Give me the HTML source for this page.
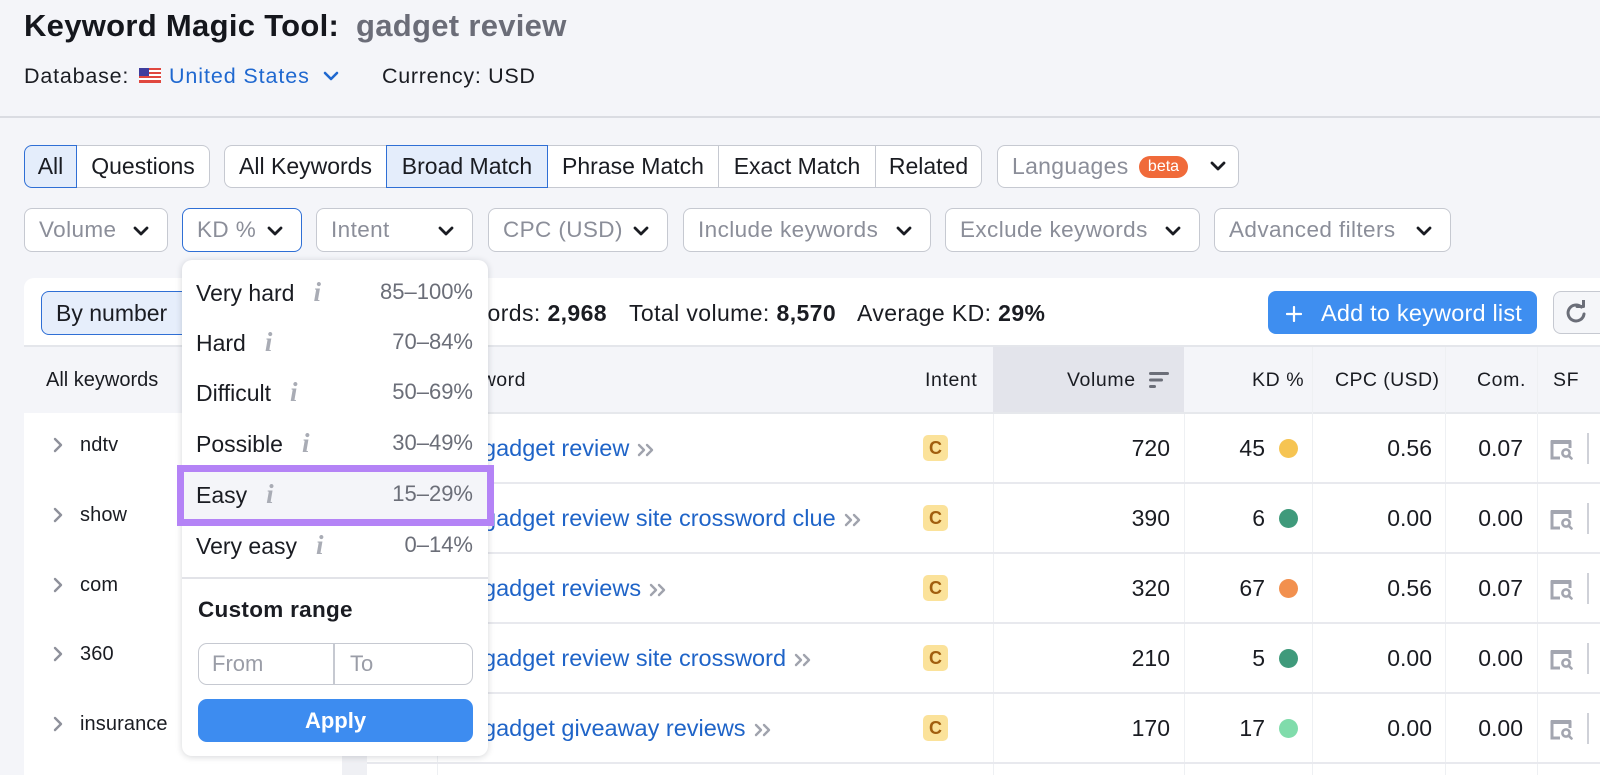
<!DOCTYPE html>
<html><head><meta charset="utf-8">
<style>
*{box-sizing:border-box}
body{margin:0;width:1600px;height:775px;overflow:hidden;background:#f4f5f9;position:relative;font-family:"Liberation Sans",Arial,sans-serif;color:#1a1c22}
.a{position:absolute;white-space:nowrap}
.t{position:absolute;white-space:nowrap;height:40px;line-height:40px}
.b{position:absolute;top:145px;height:43px;border:1.5px solid #c6c9d1;background:#fff;font-size:23px;line-height:40px;text-align:center;white-space:nowrap;color:#1a1c22}
.act{background:#e4edfb;border-color:#2f6fd5;z-index:2}
.d{position:absolute;top:208px;height:44px;border:1.5px solid #c6c9d1;background:#fff;border-radius:8px;font-size:22.5px;line-height:41px;padding-left:14px;color:#8b8e99;letter-spacing:.4px;white-space:nowrap}
.d svg{position:absolute;right:18px;top:17px}
.hl{font-size:19.5px;color:#1a1c22}
.kw{font-size:23.5px;color:#1f64c8;left:483px}
.num{font-size:23px;color:#1a1c22}
.vl{position:absolute;width:1px;background:#eef0f3;top:347px;height:428px}
.rs{position:absolute;left:367px;width:1233px;height:2px;background:#e8e9ee}
.badge{position:absolute;left:923px;width:25px;height:26px;background:#fbe29a;border-radius:5px;color:#a15e0e;font-weight:bold;font-size:18px;line-height:26px;text-align:center}
.dot{position:absolute;left:1279px;width:19px;height:19px;border-radius:50%}
.sb{font-size:20px;left:80px;letter-spacing:.1px}
.it{font-family:"Liberation Serif",serif;font-style:italic;font-weight:bold;color:#a9acb5;font-size:27px;margin-left:19px}
.dd{font-size:23px;left:196px;color:#1a1c22}
.rg{font-size:22px;right:1127px;color:#6b6e78}
</style></head><body>

<!-- Title -->
<div class="t" style="left:24px;top:5.5px;font-size:31px;font-weight:bold;letter-spacing:.3px;color:#15171d">Keyword Magic Tool:</div>
<div class="t" style="left:356px;top:5.5px;font-size:31px;font-weight:bold;letter-spacing:.3px;color:#6b6d78">gadget review</div>

<div class="t" style="left:24px;top:55.5px;font-size:21.5px;letter-spacing:.8px">Database:</div>
<svg class="a" style="left:139px;top:68px" width="22" height="15" viewBox="0 0 22 15">
<rect width="22" height="15" fill="#fff"/>
<rect y="0" width="22" height="2" fill="#e0473f"/><rect y="4" width="22" height="2" fill="#e0473f"/><rect y="8" width="22" height="2" fill="#e0473f"/><rect y="12" width="22" height="2" fill="#e0473f"/><rect y="14" width="22" height="1" fill="#e0473f"/>
<rect width="10" height="8" fill="#3f3d9e"/></svg>
<div class="t" style="left:169px;top:55.5px;font-size:21.5px;letter-spacing:.9px;color:#1f68d0">United States</div>
<svg class="a" style="left:323px;top:71px" width="16" height="10" viewBox="0 0 16 10"><polyline points="2,2 8,8 14,2" fill="none" stroke="#1f68d0" stroke-width="2.6" stroke-linecap="round" stroke-linejoin="round"/></svg>
<div class="t" style="left:382px;top:55.5px;font-size:21.5px;letter-spacing:.7px">Currency: USD</div>

<div class="a" style="left:0;top:116px;width:1600px;height:2px;background:#dadce2"></div>

<!-- Row 1 -->
<div class="b act" style="left:24px;width:53px;border-radius:8px 0 0 8px">All</div>
<div class="b" style="left:77px;width:133px;border-left:none;border-radius:0 8px 8px 0">Questions</div>
<div class="b" style="left:224px;width:162px;border-right:none;border-radius:8px 0 0 8px">All Keywords</div>
<div class="b act" style="left:386px;width:162px">Broad Match</div>
<div class="b" style="left:548px;width:171px;border-left:none">Phrase Match</div>
<div class="b" style="left:719px;width:157px;border-left:none">Exact Match</div>
<div class="b" style="left:876px;width:106px;border-left:none;border-radius:0 8px 8px 0">Related</div>
<div class="b" style="left:997px;width:242px;border-radius:8px;text-align:left;padding-left:14px;color:#8b8e99;letter-spacing:.3px">Languages</div>
<div class="a" style="left:1139px;top:156px;width:49px;height:22px;border-radius:11px;background:#f06a3a;color:#fff;font-size:16px;line-height:22px;text-align:center;z-index:3">beta</div>
<svg class="a" style="left:1210px;top:161px;z-index:3" width="16" height="10" viewBox="0 0 16 10"><polyline points="2,2 8,8 14,2" fill="none" stroke="#1a1c22" stroke-width="2.8" stroke-linecap="round" stroke-linejoin="round"/></svg>

<!-- Row 2 -->
<div class="d" style="left:24px;width:144px">Volume<svg width="16" height="10" viewBox="0 0 16 10"><polyline points="2,2 8,8 14,2" fill="none" stroke="#1a1c22" stroke-width="2.8" stroke-linecap="round" stroke-linejoin="round"/></svg></div>
<div class="d" style="left:182px;width:120px;border-color:#2f6fd5">KD %<svg width="16" height="10" viewBox="0 0 16 10"><polyline points="2,2 8,8 14,2" fill="none" stroke="#1a1c22" stroke-width="2.8" stroke-linecap="round" stroke-linejoin="round"/></svg></div>
<div class="d" style="left:316px;width:157px">Intent<svg width="16" height="10" viewBox="0 0 16 10"><polyline points="2,2 8,8 14,2" fill="none" stroke="#1a1c22" stroke-width="2.8" stroke-linecap="round" stroke-linejoin="round"/></svg></div>
<div class="d" style="left:488px;width:180px">CPC (USD)<svg width="16" height="10" viewBox="0 0 16 10"><polyline points="2,2 8,8 14,2" fill="none" stroke="#1a1c22" stroke-width="2.8" stroke-linecap="round" stroke-linejoin="round"/></svg></div>
<div class="d" style="left:683px;width:248px">Include keywords<svg width="16" height="10" viewBox="0 0 16 10"><polyline points="2,2 8,8 14,2" fill="none" stroke="#1a1c22" stroke-width="2.8" stroke-linecap="round" stroke-linejoin="round"/></svg></div>
<div class="d" style="left:945px;width:255px">Exclude keywords<svg width="16" height="10" viewBox="0 0 16 10"><polyline points="2,2 8,8 14,2" fill="none" stroke="#1a1c22" stroke-width="2.8" stroke-linecap="round" stroke-linejoin="round"/></svg></div>
<div class="d" style="left:1214px;width:237px">Advanced filters<svg width="16" height="10" viewBox="0 0 16 10"><polyline points="2,2 8,8 14,2" fill="none" stroke="#1a1c22" stroke-width="2.8" stroke-linecap="round" stroke-linejoin="round"/></svg></div>

<!-- Card -->
<div class="a" style="left:24px;top:278px;width:1576px;height:497px;background:#fff;border-radius:10px 0 0 0"></div>

<!-- stats row -->
<div class="a" style="left:41px;top:291px;width:170px;height:44px;background:#e6eefb;border:1.5px solid #2f6fd5;border-radius:8px"></div>
<div class="t" style="left:56px;top:293px;font-size:23px">By number</div>
<div class="t" style="right:993px;top:293px;font-size:23px;letter-spacing:.4px">All keywords: <b>2,968</b></div>
<div class="t" style="left:629px;top:293px;font-size:23px;letter-spacing:.4px">Total volume: <b>8,570</b></div>
<div class="t" style="left:857px;top:293px;font-size:23px;letter-spacing:.4px">Average KD: <b>29%</b></div>
<div class="a" style="left:1268px;top:291px;width:269px;height:43px;background:#3e8ef0;border-radius:8px"></div>
<svg class="a" style="left:1286px;top:306px" width="16" height="16" viewBox="0 0 16 16"><path d="M8 1v14M1 8h14" stroke="#fff" stroke-width="2.2" stroke-linecap="round"/></svg>
<div class="t" style="left:1321px;top:293px;font-size:23.5px;color:#fff;letter-spacing:.2px">Add to keyword list</div>
<div class="a" style="left:1553px;top:291px;width:47px;height:43px;background:#f5f6f9;border:1.5px solid #c6c9d1;border-right:none;border-radius:8px 0 0 8px"></div>
<svg class="a" style="left:1563px;top:300px" width="26" height="26" viewBox="0 0 26 26"><path d="M21 14a8 8 0 1 1-2.6-7" fill="none" stroke="#6b6e78" stroke-width="3" stroke-linecap="round"/><path d="M14 5.5h6.5V-1" fill="none" stroke="#6b6e78" stroke-width="3" stroke-linecap="round" stroke-linejoin="round" transform="translate(0,1)"/></svg>

<!-- header -->
<div class="a" style="left:24px;top:345px;width:1576px;height:2px;background:#e4e6eb"></div>
<div class="a" style="left:24px;top:347px;width:1576px;height:66px;background:#f4f5f9"></div>
<div class="a" style="left:993px;top:347px;width:191px;height:66px;background:#e3e4eb"></div>
<div class="a" style="left:342px;top:347px;width:25px;height:428px;background:#eff0f4"></div>
<div class="a" style="left:367px;top:412px;width:1233px;height:2px;background:#e6e8ec"></div>

<div class="vl" style="left:437px;top:414px;height:361px"></div>
<div class="vl" style="left:1184px;top:414px;height:361px"></div>
<div class="vl" style="left:993px;top:414px;height:361px"></div>
<div class="vl" style="left:1312px"></div>
<div class="vl" style="left:1445px"></div>
<div class="vl" style="left:1537px"></div>

<div class="t hl" style="left:46px;top:359.5px;font-size:20px">All keywords</div>
<div class="t hl" style="right:1074px;top:360px;letter-spacing:.5px">Keyword</div>
<div class="t hl" style="left:925px;top:360px;letter-spacing:.6px">Intent</div>
<div class="t hl" style="left:1067px;top:360px;letter-spacing:.6px">Volume</div>
<svg class="a" style="left:1149px;top:371px" width="20" height="19" viewBox="0 0 20 19"><path d="M1.5 2.5h17M1.5 9h11M1.5 15.5h4" stroke="#6b6e78" stroke-width="3" stroke-linecap="round"/></svg>
<div class="t hl" style="left:1252px;top:360px;letter-spacing:.6px">KD %</div>
<div class="t hl" style="left:1335px;top:360px;letter-spacing:.4px">CPC (USD)</div>
<div class="t hl" style="left:1477px;top:360px;letter-spacing:.6px">Com.</div>
<div class="t hl" style="left:1553px;top:360px;letter-spacing:.6px">SF</div>

<!-- row separators -->
<div class="rs" style="top:482px"></div>
<div class="rs" style="top:552px"></div>
<div class="rs" style="top:622px"></div>
<div class="rs" style="top:692px"></div>
<div class="rs" style="top:762px"></div>

<!-- sidebar items -->
<svg class="a" style="left:52px;top:437px" width="12" height="16" viewBox="0 0 12 16"><polyline points="3,2 9,8 3,14" fill="none" stroke="#8e919b" stroke-width="2.4" stroke-linecap="round" stroke-linejoin="round"/></svg>
<div class="t sb" style="top:425px">ndtv</div>
<svg class="a" style="left:52px;top:507px" width="12" height="16" viewBox="0 0 12 16"><polyline points="3,2 9,8 3,14" fill="none" stroke="#8e919b" stroke-width="2.4" stroke-linecap="round" stroke-linejoin="round"/></svg>
<div class="t sb" style="top:495px">show</div>
<svg class="a" style="left:52px;top:577px" width="12" height="16" viewBox="0 0 12 16"><polyline points="3,2 9,8 3,14" fill="none" stroke="#8e919b" stroke-width="2.4" stroke-linecap="round" stroke-linejoin="round"/></svg>
<div class="t sb" style="top:565px">com</div>
<svg class="a" style="left:52px;top:646px" width="12" height="16" viewBox="0 0 12 16"><polyline points="3,2 9,8 3,14" fill="none" stroke="#8e919b" stroke-width="2.4" stroke-linecap="round" stroke-linejoin="round"/></svg>
<div class="t sb" style="top:634px">360</div>
<svg class="a" style="left:52px;top:716px" width="12" height="16" viewBox="0 0 12 16"><polyline points="3,2 9,8 3,14" fill="none" stroke="#8e919b" stroke-width="2.4" stroke-linecap="round" stroke-linejoin="round"/></svg>
<div class="t sb" style="top:704px">insurance</div>

<!-- table rows -->
<div class="t kw" style="top:428px">gadget review<svg style="margin-left:8px;vertical-align:-1px" width="19" height="14" viewBox="0 0 19 14"><polyline points="2,2 7,7 2,12" fill="none" stroke="#a0a3ad" stroke-width="2.4" stroke-linecap="round" stroke-linejoin="round"/><polyline points="10,2 15,7 10,12" fill="none" stroke="#a0a3ad" stroke-width="2.4" stroke-linecap="round" stroke-linejoin="round"/></svg></div>
<div class="badge" style="top:435px">C</div>
<div class="t num" style="right:430px;top:428px">720</div>
<div class="t num" style="right:335px;top:428px">45</div>
<div class="dot" style="top:438.5px;background:#f6c452"></div>
<div class="t num" style="right:168px;top:428px">0.56</div>
<div class="t num" style="right:77px;top:428px">0.07</div>

<div class="t kw" style="top:498px">gadget review site crossword clue<svg style="margin-left:8px;vertical-align:-1px" width="19" height="14" viewBox="0 0 19 14"><polyline points="2,2 7,7 2,12" fill="none" stroke="#a0a3ad" stroke-width="2.4" stroke-linecap="round" stroke-linejoin="round"/><polyline points="10,2 15,7 10,12" fill="none" stroke="#a0a3ad" stroke-width="2.4" stroke-linecap="round" stroke-linejoin="round"/></svg></div>
<div class="badge" style="top:505px">C</div>
<div class="t num" style="right:430px;top:498px">390</div>
<div class="t num" style="right:335px;top:498px">6</div>
<div class="dot" style="top:508.5px;background:#3f9a7b"></div>
<div class="t num" style="right:168px;top:498px">0.00</div>
<div class="t num" style="right:77px;top:498px">0.00</div>

<div class="t kw" style="top:568px">gadget reviews<svg style="margin-left:8px;vertical-align:-1px" width="19" height="14" viewBox="0 0 19 14"><polyline points="2,2 7,7 2,12" fill="none" stroke="#a0a3ad" stroke-width="2.4" stroke-linecap="round" stroke-linejoin="round"/><polyline points="10,2 15,7 10,12" fill="none" stroke="#a0a3ad" stroke-width="2.4" stroke-linecap="round" stroke-linejoin="round"/></svg></div>
<div class="badge" style="top:575px">C</div>
<div class="t num" style="right:430px;top:568px">320</div>
<div class="t num" style="right:335px;top:568px">67</div>
<div class="dot" style="top:578.5px;background:#f2904e"></div>
<div class="t num" style="right:168px;top:568px">0.56</div>
<div class="t num" style="right:77px;top:568px">0.07</div>

<div class="t kw" style="top:638px">gadget review site crossword<svg style="margin-left:8px;vertical-align:-1px" width="19" height="14" viewBox="0 0 19 14"><polyline points="2,2 7,7 2,12" fill="none" stroke="#a0a3ad" stroke-width="2.4" stroke-linecap="round" stroke-linejoin="round"/><polyline points="10,2 15,7 10,12" fill="none" stroke="#a0a3ad" stroke-width="2.4" stroke-linecap="round" stroke-linejoin="round"/></svg></div>
<div class="badge" style="top:645px">C</div>
<div class="t num" style="right:430px;top:638px">210</div>
<div class="t num" style="right:335px;top:638px">5</div>
<div class="dot" style="top:648.5px;background:#3f9a7b"></div>
<div class="t num" style="right:168px;top:638px">0.00</div>
<div class="t num" style="right:77px;top:638px">0.00</div>

<div class="t kw" style="top:708px">gadget giveaway reviews<svg style="margin-left:8px;vertical-align:-1px" width="19" height="14" viewBox="0 0 19 14"><polyline points="2,2 7,7 2,12" fill="none" stroke="#a0a3ad" stroke-width="2.4" stroke-linecap="round" stroke-linejoin="round"/><polyline points="10,2 15,7 10,12" fill="none" stroke="#a0a3ad" stroke-width="2.4" stroke-linecap="round" stroke-linejoin="round"/></svg></div>
<div class="badge" style="top:715px">C</div>
<div class="t num" style="right:430px;top:708px">170</div>
<div class="t num" style="right:335px;top:708px">17</div>
<div class="dot" style="top:718.5px;background:#80dcab"></div>
<div class="t num" style="right:168px;top:708px">0.00</div>
<div class="t num" style="right:77px;top:708px">0.00</div>

<!-- SF icons and bars -->
<svg class="a" style="left:1549px;top:438px" width="25" height="22" viewBox="0 0 25 22"><path d="M11 20H3V4h18v6" fill="none" stroke="#a3a6b0" stroke-width="3"/><rect x="2" y="2" width="20" height="4" fill="#a3a6b0"/><circle cx="17" cy="15" r="3.6" fill="none" stroke="#a3a6b0" stroke-width="2.6"/><path d="M19.5 17.5l3 3" stroke="#a3a6b0" stroke-width="2.6" stroke-linecap="round"/></svg>
<div class="a" style="left:1587px;top:433px;width:2px;height:31px;background:#cfd1d8"></div>
<svg class="a" style="left:1549px;top:508px" width="25" height="22" viewBox="0 0 25 22"><path d="M11 20H3V4h18v6" fill="none" stroke="#a3a6b0" stroke-width="3"/><rect x="2" y="2" width="20" height="4" fill="#a3a6b0"/><circle cx="17" cy="15" r="3.6" fill="none" stroke="#a3a6b0" stroke-width="2.6"/><path d="M19.5 17.5l3 3" stroke="#a3a6b0" stroke-width="2.6" stroke-linecap="round"/></svg>
<div class="a" style="left:1587px;top:503px;width:2px;height:31px;background:#cfd1d8"></div>
<svg class="a" style="left:1549px;top:578px" width="25" height="22" viewBox="0 0 25 22"><path d="M11 20H3V4h18v6" fill="none" stroke="#a3a6b0" stroke-width="3"/><rect x="2" y="2" width="20" height="4" fill="#a3a6b0"/><circle cx="17" cy="15" r="3.6" fill="none" stroke="#a3a6b0" stroke-width="2.6"/><path d="M19.5 17.5l3 3" stroke="#a3a6b0" stroke-width="2.6" stroke-linecap="round"/></svg>
<div class="a" style="left:1587px;top:573px;width:2px;height:31px;background:#cfd1d8"></div>
<svg class="a" style="left:1549px;top:648px" width="25" height="22" viewBox="0 0 25 22"><path d="M11 20H3V4h18v6" fill="none" stroke="#a3a6b0" stroke-width="3"/><rect x="2" y="2" width="20" height="4" fill="#a3a6b0"/><circle cx="17" cy="15" r="3.6" fill="none" stroke="#a3a6b0" stroke-width="2.6"/><path d="M19.5 17.5l3 3" stroke="#a3a6b0" stroke-width="2.6" stroke-linecap="round"/></svg>
<div class="a" style="left:1587px;top:643px;width:2px;height:31px;background:#cfd1d8"></div>
<svg class="a" style="left:1549px;top:718px" width="25" height="22" viewBox="0 0 25 22"><path d="M11 20H3V4h18v6" fill="none" stroke="#a3a6b0" stroke-width="3"/><rect x="2" y="2" width="20" height="4" fill="#a3a6b0"/><circle cx="17" cy="15" r="3.6" fill="none" stroke="#a3a6b0" stroke-width="2.6"/><path d="M19.5 17.5l3 3" stroke="#a3a6b0" stroke-width="2.6" stroke-linecap="round"/></svg>
<div class="a" style="left:1587px;top:713px;width:2px;height:31px;background:#cfd1d8"></div>

<!-- Dropdown panel -->
<div class="a" style="left:182px;top:260px;width:306px;height:496px;background:#fff;border-radius:10px;box-shadow:0 1px 7px rgba(20,25,40,.18);z-index:10"></div>
<div class="a" style="left:177px;top:465px;width:317px;height:61px;border:7px solid #b483f6;background:#f4f5f9;z-index:11"></div>
<div style="position:absolute;left:0;top:0;width:1600px;height:775px;z-index:12">
<div class="t dd" style="top:272px">Very hard<span class="it">i</span></div>
<div class="t rg" style="top:272px">85–100%</div>
<div class="t dd" style="top:322px">Hard<span class="it">i</span></div>
<div class="t rg" style="top:322px">70–84%</div>
<div class="t dd" style="top:372px">Difficult<span class="it">i</span></div>
<div class="t rg" style="top:372px">50–69%</div>
<div class="t dd" style="top:423px">Possible<span class="it">i</span></div>
<div class="t rg" style="top:423px">30–49%</div>
<div class="t dd" style="top:474px">Easy<span class="it">i</span></div>
<div class="t rg" style="top:474px">15–29%</div>
<div class="t dd" style="top:525px">Very easy<span class="it">i</span></div>
<div class="t rg" style="top:525px">0–14%</div>
<div class="a" style="left:182px;top:577px;width:306px;height:2px;background:#e2e3e8"></div>
<div class="t" style="left:198px;top:589.5px;font-size:22.5px;font-weight:bold;letter-spacing:.3px">Custom range</div>
<div class="a" style="left:198px;top:643px;width:275px;height:42px;border:1.5px solid #c6c9d1;border-radius:9px;background:#fff"></div>
<div class="a" style="left:333px;top:644px;width:1.5px;height:40px;background:#c6c9d1"></div>
<div class="t" style="left:212px;top:644px;font-size:22px;color:#9a9da7">From</div>
<div class="t" style="left:350px;top:644px;font-size:22px;color:#9a9da7">To</div>
<div class="a" style="left:198px;top:699px;width:275px;height:43px;background:#3d8cf0;border-radius:9px;color:#fff;font-weight:bold;font-size:22px;line-height:43px;text-align:center">Apply</div>
</div>

</body></html>
